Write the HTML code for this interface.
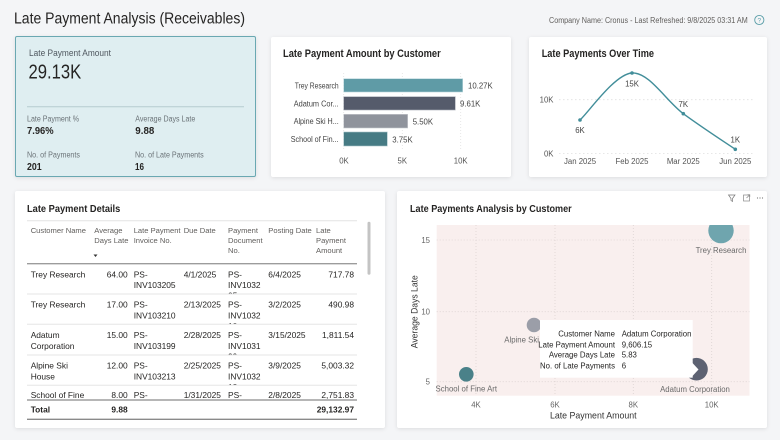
<!DOCTYPE html>
<html><head><meta charset="utf-8">
<style>
html,body{margin:0;padding:0;}
body{width:780px;height:440px;background:#f4f5f7;position:relative;overflow:hidden;font-family:"Liberation Sans",sans-serif;}
.card{position:absolute;background:#fff;border-radius:2px;box-shadow:0 1px 4px rgba(0,0,0,0.10);}
svg{position:absolute;left:0;top:0;}
text{font-family:"Liberation Sans",sans-serif;}
</style></head>
<body>
<div class="card" style="left:15px;top:36px;width:241px;height:141px;background:#dfeef1;border:1.3px solid #6aa8b2;box-sizing:border-box;"></div>
<div class="card" style="left:271px;top:37px;width:240px;height:140px;"></div>
<div class="card" style="left:529px;top:37px;width:238px;height:140px;"></div>
<div class="card" style="left:15px;top:191px;width:370px;height:237px;"></div>
<div class="card" style="left:397px;top:191px;width:370px;height:237px;"></div>

<svg width="780" height="440" viewBox="0 0 780 440" xmlns="http://www.w3.org/2000/svg">
<defs>
<clipPath id="r1"><rect x="20" y="264.5" width="340" height="29.5"/></clipPath>
<clipPath id="r2"><rect x="20" y="294.5" width="340" height="29.8"/></clipPath>
<clipPath id="r3"><rect x="20" y="324.8" width="340" height="30.2"/></clipPath>
<clipPath id="r4"><rect x="20" y="355.5" width="340" height="29.8"/></clipPath>
<clipPath id="r5"><rect x="20" y="385.8" width="340" height="13.5"/></clipPath>
<clipPath id="plot"><rect x="436.7" y="225" width="312.8" height="170.7"/></clipPath>
</defs>

<!-- Header -->
<text x="14" y="23.5" font-size="15.5" fill="#252423" textLength="231" lengthAdjust="spacingAndGlyphs">Late Payment Analysis (Receivables)</text>
<text x="549" y="23" font-size="7.8" fill="#605e5c" textLength="198.7" lengthAdjust="spacingAndGlyphs">Company Name: Cronus - Last Refreshed: 9/8/2025 03:31 AM</text>
<circle cx="759.3" cy="20" r="4.6" fill="none" stroke="#5a9ea8" stroke-width="0.9"/>
<text x="759.3" y="22.6" font-size="6.5" fill="#5a9ea8" text-anchor="middle">?</text>

<!-- KPI card -->
<text x="29" y="56" font-size="9" fill="#505860" textLength="82" lengthAdjust="spacingAndGlyphs">Late Payment Amount</text>
<text x="28.5" y="78.3" font-size="20" fill="#252423" textLength="52.7" lengthAdjust="spacingAndGlyphs">29.13K</text>
<line x1="27" y1="106.7" x2="244" y2="106.7" stroke="#b5cbd0" stroke-width="1"/>
<text x="27" y="121.5" font-size="8" fill="#6b7378" textLength="52" lengthAdjust="spacingAndGlyphs">Late Payment %</text>
<text x="27" y="134" font-size="10.5" font-weight="bold" fill="#252423" textLength="26.6" lengthAdjust="spacingAndGlyphs">7.96%</text>
<text x="135.3" y="121.5" font-size="8" fill="#6b7378" textLength="60" lengthAdjust="spacingAndGlyphs">Average Days Late</text>
<text x="135.3" y="134" font-size="10.5" font-weight="bold" fill="#252423" textLength="19" lengthAdjust="spacingAndGlyphs">9.88</text>
<text x="27" y="157.5" font-size="8" fill="#6b7378" textLength="53" lengthAdjust="spacingAndGlyphs">No. of Payments</text>
<text x="27" y="170" font-size="10.5" font-weight="bold" fill="#252423" textLength="14.7" lengthAdjust="spacingAndGlyphs">201</text>
<text x="135" y="157.5" font-size="8" fill="#6b7378" textLength="68.7" lengthAdjust="spacingAndGlyphs">No. of Late Payments</text>
<text x="135" y="170" font-size="10.5" font-weight="bold" fill="#252423" textLength="9" lengthAdjust="spacingAndGlyphs">16</text>

<!-- Bar chart -->
<text x="283" y="57" font-size="11" font-weight="bold" fill="#252423" textLength="157.7" lengthAdjust="spacingAndGlyphs">Late Payment Amount by Customer</text>
<g stroke="#e2e2e2" stroke-width="0.8" stroke-dasharray="1,2">
<line x1="343.7" y1="73" x2="343.7" y2="151"/>
<line x1="402.3" y1="73" x2="402.3" y2="151"/>
<line x1="460.7" y1="73" x2="460.7" y2="151"/>
</g>
<rect x="343.7" y="78.7" width="119" height="13.3" fill="#5f9ba6" stroke="#b9d6db" stroke-width="0.6"/>
<rect x="343.7" y="96.7" width="111.6" height="13.3" fill="#555b6b" stroke="#a9adb6" stroke-width="0.6"/>
<rect x="343.7" y="114.3" width="64" height="13.7" fill="#8f939c" stroke="#c9cbd0" stroke-width="0.6"/>
<rect x="343.7" y="132" width="43.6" height="14" fill="#467b84" stroke="#a7c3c8" stroke-width="0.6"/>
<g font-size="7.8" fill="#444" text-anchor="end">
<text x="338.7" y="88.3" textLength="44" lengthAdjust="spacingAndGlyphs">Trey Research</text>
<text x="338.7" y="106.3" textLength="45" lengthAdjust="spacingAndGlyphs">Adatum Cor...</text>
<text x="338.7" y="124" textLength="45" lengthAdjust="spacingAndGlyphs">Alpine Ski H...</text>
<text x="338.7" y="142" textLength="48" lengthAdjust="spacingAndGlyphs">School of Fin...</text>
</g>
<g font-size="7.8" fill="#444">
<text x="468" y="88.5">10.27K</text>
<text x="460" y="106.5">9.61K</text>
<text x="412.7" y="124.3">5.50K</text>
<text x="392.3" y="142.3">3.75K</text>
</g>
<g font-size="7.8" fill="#555" text-anchor="middle">
<text x="344" y="163.5">0K</text>
<text x="402.3" y="163.5">5K</text>
<text x="460.7" y="163.5">10K</text>
</g>

<!-- Line chart -->
<text x="541.7" y="57" font-size="11" font-weight="bold" fill="#252423" textLength="112.3" lengthAdjust="spacingAndGlyphs">Late Payments Over Time</text>
<g stroke="#e0e0e0" stroke-width="0.8" stroke-dasharray="1.5,2.5">
<line x1="559" y1="99.7" x2="754" y2="99.7"/>
<line x1="559" y1="153.5" x2="754" y2="153.5"/>
</g>
<g font-size="7.8" fill="#555" text-anchor="end">
<text x="553.5" y="102.5">10K</text>
<text x="553.5" y="156.5">0K</text>
</g>
<g font-size="7.8" fill="#555" text-anchor="middle">
<text x="580" y="164">Jan 2025</text>
<text x="632" y="164">Feb 2025</text>
<text x="683.3" y="164">Mar 2025</text>
<text x="735.3" y="164">Jun 2025</text>
</g>
<path d="M580,120 C588.7,112.2 614.8,74 632,73 C649.2,72 666.1,101 683.3,113.7 C700.5,126.4 726.6,143.4 735.3,149.3" fill="none" stroke="#428e9a" stroke-width="1.4"/>
<g fill="#428e9a">
<circle cx="580" cy="120" r="1.8"/><circle cx="632" cy="73" r="1.8"/><circle cx="683.3" cy="113.7" r="1.8"/><circle cx="735.3" cy="149.3" r="1.8"/>
</g>
<g font-size="7.8" fill="#444" text-anchor="middle">
<text x="580" y="133">6K</text>
<text x="632" y="86.3">15K</text>
<text x="683.3" y="107">7K</text>
<text x="735.3" y="142.7">1K</text>
</g>

<!-- Table -->
<text x="27" y="212" font-size="10.5" font-weight="bold" fill="#252423" textLength="93.3" lengthAdjust="spacingAndGlyphs">Late Payment Details</text>
<line x1="27" y1="220.7" x2="357" y2="220.7" stroke="#e4e4e4" stroke-width="1"/>
<g font-size="7.6" fill="#605e5c">
<text x="30.7" y="233">Customer Name</text>
<text x="94.3" y="233">Average</text><text x="94.3" y="243">Days Late</text>
<text x="133.7" y="233">Late Payment</text><text x="133.7" y="243">Invoice No.</text>
<text x="183.7" y="233">Due Date</text>
<text x="228" y="233">Payment</text><text x="228" y="243">Document</text><text x="228" y="253">No.</text>
<text x="268.3" y="233">Posting Date</text>
<text x="316" y="233">Late</text><text x="316" y="243">Payment</text><text x="316" y="253">Amount</text>
</g>
<path d="M93.5,254.5 L97.5,254.5 L95.5,257 Z" fill="#333"/>
<line x1="27" y1="263.7" x2="357" y2="263.7" stroke="#9c9c9c" stroke-width="1.3"/>

<g font-size="8.4" fill="#252423">
<g clip-path="url(#r1)">
<text x="30.7" y="277.3">Trey Research</text>
<text x="127.7" y="277.3" text-anchor="end">64.00</text>
<text x="133.7" y="277.3">PS-</text><text x="133.7" y="288">INV103205</text>
<text x="183.7" y="277.3">4/1/2025</text>
<text x="228" y="277.3">PS-</text><text x="228" y="288">INV1032</text><text x="228" y="298.7">05</text>
<text x="268.3" y="277.3">6/4/2025</text>
<text x="354" y="277.3" text-anchor="end">717.78</text>
</g>
<g clip-path="url(#r2)">
<text x="30.7" y="307.6">Trey Research</text>
<text x="127.7" y="307.6" text-anchor="end">17.00</text>
<text x="133.7" y="307.6">PS-</text><text x="133.7" y="318.3">INV103210</text>
<text x="183.7" y="307.6">2/13/2025</text>
<text x="228" y="307.6">PS-</text><text x="228" y="318.3">INV1032</text><text x="228" y="329">10</text>
<text x="268.3" y="307.6">3/2/2025</text>
<text x="354" y="307.6" text-anchor="end">490.98</text>
</g>
<g clip-path="url(#r3)">
<text x="30.7" y="338">Adatum</text><text x="30.7" y="349">Corporation</text>
<text x="127.7" y="338" text-anchor="end">15.00</text>
<text x="133.7" y="338">PS-</text><text x="133.7" y="349">INV103199</text>
<text x="183.7" y="338">2/28/2025</text>
<text x="228" y="338">PS-</text><text x="228" y="349">INV1031</text><text x="228" y="359.7">99</text>
<text x="268.3" y="338">3/15/2025</text>
<text x="354" y="338" text-anchor="end">1,811.54</text>
</g>
<g clip-path="url(#r4)">
<text x="30.7" y="368.3">Alpine Ski</text><text x="30.7" y="379.3">House</text>
<text x="127.7" y="368.3" text-anchor="end">12.00</text>
<text x="133.7" y="368.3">PS-</text><text x="133.7" y="379.3">INV103213</text>
<text x="183.7" y="368.3">2/25/2025</text>
<text x="228" y="368.3">PS-</text><text x="228" y="379.3">INV1032</text><text x="228" y="390">13</text>
<text x="268.3" y="368.3">3/9/2025</text>
<text x="354" y="368.3" text-anchor="end">5,003.32</text>
</g>
<g clip-path="url(#r5)">
<text x="30.7" y="398">School of Fine</text>
<text x="127.7" y="398" text-anchor="end">8.00</text>
<text x="133.7" y="398">PS-</text>
<text x="183.7" y="398">1/31/2025</text>
<text x="228" y="398">PS-</text>
<text x="268.3" y="398">2/8/2025</text>
<text x="354" y="398" text-anchor="end">2,751.83</text>
</g>
</g>
<g stroke="#e6e6e6" stroke-width="1">
<line x1="27" y1="294" x2="357" y2="294"/>
<line x1="27" y1="324.3" x2="357" y2="324.3"/>
<line x1="27" y1="355" x2="357" y2="355"/>
<line x1="27" y1="385.3" x2="357" y2="385.3"/>
</g>
<line x1="27" y1="400" x2="357" y2="400" stroke="#8a8a8a" stroke-width="1.3"/>
<g font-size="8.4" font-weight="bold" fill="#252423">
<text x="30.7" y="412.7">Total</text>
<text x="127.7" y="412.7" text-anchor="end">9.88</text>
<text x="354" y="412.7" text-anchor="end">29,132.97</text>
</g>
<line x1="27" y1="419.3" x2="357" y2="419.3" stroke="#8a8a8a" stroke-width="1.3"/>
<rect x="367.5" y="221.7" width="3" height="53" rx="1.5" fill="#c4c4c4"/>

<!-- Scatter -->
<text x="410" y="212" font-size="10.5" font-weight="bold" fill="#252423" textLength="161.7" lengthAdjust="spacingAndGlyphs">Late Payments Analysis by Customer</text>
<!-- icons -->
<path d="M728.5,195 L735,195 L732.5,198.5 L732.5,201.5 L731,200.5 L731,198.5 Z" fill="none" stroke="#777" stroke-width="0.7"/>
<rect x="743.5" y="195" width="6" height="6" fill="none" stroke="#888" stroke-width="0.7"/>
<path d="M746.5,198 L749.8,194.7 M747.5,194.7 L749.8,194.7 L749.8,197" fill="none" stroke="#888" stroke-width="0.7"/>
<g fill="#777"><circle cx="757.5" cy="198" r="0.6"/><circle cx="760" cy="198" r="0.6"/><circle cx="762.5" cy="198" r="0.6"/></g>

<rect x="436.7" y="225" width="312.8" height="170.7" fill="#f9efee"/>
<g stroke="#dcd3d2" stroke-width="0.8" stroke-dasharray="1,2">
<line x1="436.7" y1="240" x2="749.5" y2="240"/>
<line x1="436.7" y1="311.7" x2="749.5" y2="311.7"/>
<line x1="436.7" y1="381.7" x2="749.5" y2="381.7"/>
<line x1="476" y1="225" x2="476" y2="395.7"/>
<line x1="555" y1="225" x2="555" y2="395.7"/>
<line x1="633.3" y1="225" x2="633.3" y2="395.7"/>
<line x1="711.7" y1="225" x2="711.7" y2="395.7"/>
</g>
<g font-size="7.8" fill="#666" text-anchor="end">
<text x="430" y="243">15</text>
<text x="430" y="314.7">10</text>
<text x="430" y="384.7">5</text>
</g>
<g font-size="7.8" fill="#666" text-anchor="middle">
<text x="476" y="407.5">4K</text>
<text x="555" y="407.5">6K</text>
<text x="633.3" y="407.5">8K</text>
<text x="711.7" y="407.5">10K</text>
</g>
<text x="593.3" y="418.5" font-size="9.5" fill="#333" text-anchor="middle" textLength="86.7" lengthAdjust="spacingAndGlyphs">Late Payment Amount</text>
<text transform="translate(417.5,311.7) rotate(-90)" font-size="9.5" fill="#333" text-anchor="middle" textLength="73" lengthAdjust="spacingAndGlyphs">Average Days Late</text>

<g clip-path="url(#plot)">
<circle cx="721" cy="230.6" r="12.7" fill="#6fa5ae"/>
<circle cx="534" cy="325" r="7.3" fill="#9b9ea8"/>
<circle cx="466.3" cy="374.3" r="7.3" fill="#4a8189"/>
<circle cx="696.5" cy="369.2" r="11.3" fill="#5d6272"/>
</g>
<g font-size="7.8" fill="#6a6a6a" text-anchor="middle">
<text x="721" y="253">Trey Research</text>
<text x="534" y="342.7">Alpine Ski House</text>
<text x="466.3" y="391.3">School of Fine Art</text>
<text x="695" y="392">Adatum Corporation</text>
</g>

<!-- tooltip -->
<rect x="540" y="320" width="152.7" height="57.7" fill="#ffffff"/>
<path d="M692.5,363 L698.5,369.5 L692.5,376 Z" fill="#ffffff"/>
<g font-size="7.8" fill="#252423">
<g text-anchor="end">
<text x="615" y="336.7">Customer Name</text>
<text x="615" y="347.3">Late Payment Amount</text>
<text x="615" y="357.7">Average Days Late</text>
<text x="615" y="368.3">No. of Late Payments</text>
</g>
<text x="621.7" y="336.7">Adatum Corporation</text>
<text x="621.7" y="347.3">9,606.15</text>
<text x="621.7" y="357.7">5.83</text>
<text x="621.7" y="368.3">6</text>
</g>
</svg>
</body></html>
